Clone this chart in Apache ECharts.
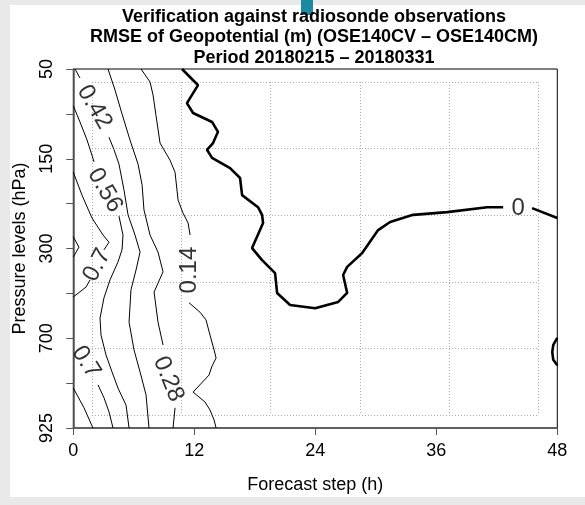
<!DOCTYPE html>
<html><head><meta charset="utf-8">
<script src="https://cdn.jsdelivr.net/npm/echarts@6/dist/echarts.min.js"></script>
<style>
html,body{margin:0;padding:0;width:585px;height:505px;background:#e9e9e9;overflow:hidden}
#paper{position:absolute;left:10px;top:5px;width:575px;height:492px;background:#fff}
#tab{position:absolute;left:301px;top:0;width:12px;height:15px;background:#1b8ba3}
#chart{position:absolute;left:10px;top:5px;width:575px;height:492px;background:transparent}
</style></head><body>
<div id="paper"></div><div id="tab"></div><div id="chart"></div>
<script>
// ---- data ----
const titleLines = ['Verification against radiosonde observations',
  'RMSE of Geopotential (m) (OSE140CV \u2013 OSE140CM)',
  'Period 20180215 \u2013 20180331'];
const stepTicks = [0, 12, 24, 36, 48];
const pressureLevels = ['50','100','150','250','300','500','700','850','925'];
const shownLevelLabels = ['50','150','300','700','925'];

// contour pieces: [forecast step (h), pressure level index]
const c084 = [
  [[0,3.74],[0.56,3.97],[0,4.19]],
  [[0,7.11],[1.06,7.55],[1.95,8]]
];
const c070 = [
  [[0,2.30],[0.86,2.81],[1.85,3.32],[2.95,3.70],[3.54,3.86],[3.04,4.03]],
  [[1.66,4.70],[1.26,4.86],[0,5.08]],
  [[2.45,7.04],[3.05,7.33],[3.54,7.64],[3.94,8]]
];
const c056 = [
  [[0,0.82],[0.66,1.18],[1.36,1.58],[1.85,1.92],[2.05,2.07]],
  [[4.53,3.28],[4.93,3.70],[4.83,4.03],[4.43,4.30],[3.64,4.70],[3.04,5.10],[2.65,5.55],[2.75,5.93],[3.24,6.37],[3.84,6.75],[4.43,7.11],[5.23,7.49],[5.53,8]]
];
const c042 = [
  [[0.17,0],[0.66,0.20]],
  [[3.54,1.52],[4.04,1.80],[4.53,2.12],[5.03,2.70],[5.43,3.25],[6.12,3.70],[6.62,4.08],[6.22,4.48],[5.72,4.92],[5.53,5.64],[6.02,6.26],[6.62,6.75],[7.21,7.26],[7.51,8]]
];
const c028 = [
  [[3.44,0],[4.14,0.47],[4.83,1.00],[5.62,1.58],[6.42,2.12],[6.82,2.58],[7.01,3.14],[7.61,3.70],[8.40,4.08],[8.90,4.52],[8.01,4.97],[8.40,5.64],[8.90,6.15]],
  [[10.09,7.55],[9.89,8]]
];
const c014 = [
  [[6.72,0],[7.61,0.29],[7.91,0.58],[8.20,1.03],[8.60,1.65],[9.59,2.03],[10.09,2.30],[10.39,2.92],[10.88,3.21],[11.38,3.43],[11.58,3.70]],
  [[11.48,5.21],[12.57,5.42],[13.16,5.59],[13.56,5.93],[13.96,6.26],[14.16,6.44],[13.76,6.62],[13.46,6.82],[11.88,7.20],[13.06,7.42],[13.56,7.60],[13.96,7.82],[14.16,8]]
];
const c000 = [
  [[10.78,0],[11.88,0.25],[12.37,0.36],[11.27,0.76],[11.88,0.98],[13.76,1.18],[14.35,1.40],[13.86,1.65],[13.26,1.80],[13.76,1.98],[15.55,2.21],[16.54,2.43],[16.74,2.81],[18.32,3.08],[18.72,3.25],[18.82,3.43],[17.73,3.99],[18.72,4.26],[20.01,4.55],[20.21,4.99],[21.50,5.26],[23.98,5.33],[26.27,5.19],[27.16,4.99],[26.76,4.59],[27.16,4.41],[28.65,4.10],[30.23,3.59],[31.42,3.41],[33.70,3.25],[37.08,3.19],[41.04,3.08],[42.63,3.08]],
  [[45.50,3.10],[48,3.32]],
  [[48,5.99],[47.6,6.15],[47.5,6.31],[47.6,6.48],[48,6.60]]
];
const contourLabels = [
  {text:'0.42', x:2.09, y:0.85, angle:-60},
  {text:'0.56', x:3.14, y:2.70, angle:-60},
  {text:'0.7',  x:2.35, y:4.37, angle:62},
  {text:'0.7',  x:1.26, y:6.53, angle:-58},
  {text:'0.28', x:9.44, y:6.91, angle:-68},
  {text:'0.14', x:11.48, y:4.48, angle:90},
  {text:'0',    x:44.12, y:3.10, angle:0}
];

// ---- chart ----
const FONT = '"Liberation Sans", Arial, Helvetica, sans-serif';
const contourSets = [
  {level:0.84, pieces:c084}, {level:0.70, pieces:c070}, {level:0.56, pieces:c056},
  {level:0.42, pieces:c042}, {level:0.28, pieces:c028}, {level:0.14, pieces:c014},
  {level:0, pieces:c000}
];
const series = [];
contourSets.forEach(set => set.pieces.forEach(p => series.push({
  type:'line', xAxisIndex:0, yAxisIndex:0, data:p, symbol:'none', showSymbol:false,
  smooth:false, silent:true, z:5, animation:false,
  lineStyle:{color:'#000', width: set.level === 0 ? 2.6 : 1}
})));
const labelStyle = {show:true, position:'inside', fontSize:24, color:'#000', fontFamily:FONT};
series.push({
  type:'scatter', xAxisIndex:0, yAxisIndex:0, symbolSize:1, silent:true, z:6, animation:false,
  itemStyle:{color:'rgba(0,0,0,0)'},
  data: contourLabels.map(l => ({value:[l.x, l.y], name:l.text,
    label:Object.assign({}, labelStyle, {rotate:l.angle, formatter:l.text})})),
  label:labelStyle
});

const chart = echarts.init(document.getElementById('chart'), null, {renderer:'canvas'});
chart.setOption({
  animation:false,
  backgroundColor:'transparent',
  textStyle:{fontFamily:FONT},
  title:{text:titleLines.join('\n'), left:304, top:1.5, padding:0, textAlign:'center', textVerticalAlign:'top',
    textStyle:{fontSize:18, fontWeight:'bold', color:'#000', lineHeight:20.5, fontFamily:FONT}},
  grid:[
    {left:63.3, top:64, width:484, height:359, show:true, borderColor:'#000', borderWidth:1, backgroundColor:'transparent', containLabel:false, outerBoundsMode:'none'},
    {left:82, top:77, width:446.5, height:333, containLabel:false, outerBoundsMode:'none'}
  ],
  xAxis:[
    {gridIndex:0, type:'value', min:stepTicks[0], max:stepTicks[stepTicks.length-1], interval:stepTicks[1]-stepTicks[0],
     axisLine:{show:true, onZero:false, lineStyle:{color:'#555', width:1.5}},
     axisTick:{show:true, length:7, lineStyle:{color:'#555', width:1}},
     axisLabel:{fontSize:18, color:'#000', margin:14, fontFamily:FONT, showMinLabel:true, showMaxLabel:true},
     splitLine:{show:false},
     name:'Forecast step (h)', nameLocation:'middle', nameGap:57,
     nameTextStyle:{fontSize:18, color:'#000', verticalAlign:'middle', fontFamily:FONT}},
    {gridIndex:1, type:'value', min:0, max:5, interval:1, axisLine:{show:false}, axisTick:{show:false}, axisLabel:{show:false},
     splitLine:{show:true, lineStyle:{color:'#aaa', type:[1,2], width:1}}}
  ],
  yAxis:[
    {gridIndex:0, type:'value', inverse:true, min:0, max:pressureLevels.length-1, interval:1,
     axisLine:{show:true, onZero:false, lineStyle:{color:'#555', width:1.5}},
     axisTick:{show:true, length:7, lineStyle:{color:'#555', width:1}},
     axisLabel:{rotate:90, align:'center', verticalAlign:'middle', margin:26, fontSize:18, color:'#000', fontFamily:FONT,
       showMinLabel:true, showMaxLabel:true,
       formatter:v => { const s = pressureLevels[Math.round(v)]; return shownLevelLabels.indexOf(s) >= 0 ? s : ''; }},
     splitLine:{show:false},
     name:'Pressure levels (hPa)', nameLocation:'middle', nameGap:53,
     nameTextStyle:{fontSize:18, color:'#000', verticalAlign:'middle', fontFamily:FONT}},
    {gridIndex:1, type:'value', min:0, max:5, interval:1, axisLine:{show:false}, axisTick:{show:false}, axisLabel:{show:false},
     splitLine:{show:true, lineStyle:{color:'#aaa', type:[1,2], width:1}}}
  ],
  series: series
});
</script></body></html>
